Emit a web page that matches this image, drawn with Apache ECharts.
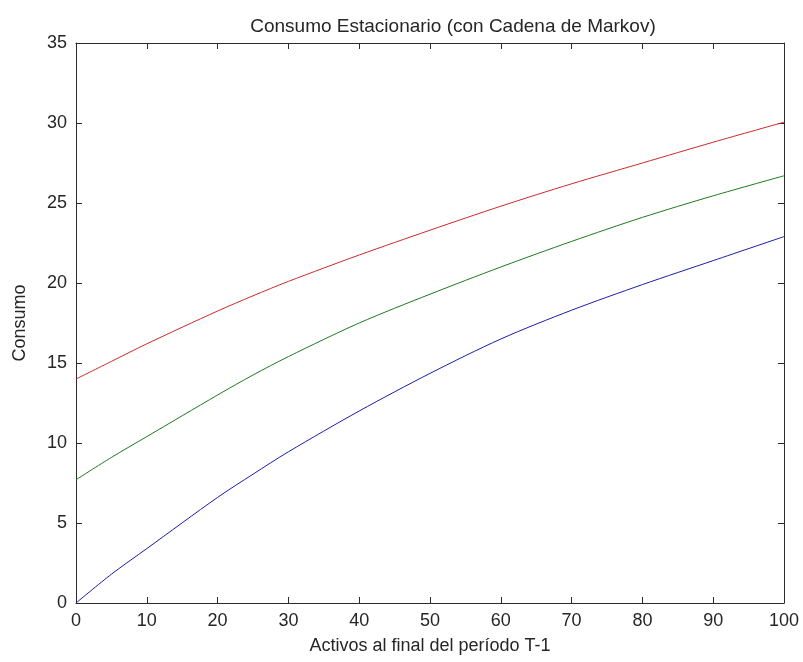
<!DOCTYPE html>
<html>
<head>
<meta charset="utf-8">
<title>Consumo Estacionario</title>
<script src="https://cdn.jsdelivr.net/npm/echarts@6/dist/echarts.min.js"></script>
<style>
  html, body { margin: 0; padding: 0; background: #fff; }
  #chart { width: 803px; height: 662px; }
</style>
</head>
<body>
<div id="chart"></div>
<script>
// Assets at the end of period T-1 (x axis)
const assets = [0, 5, 10, 20, 25, 30, 40, 50, 60, 70, 80, 90, 100];

// Stationary consumption for each Markov state
const consumoBajo  = [0.0, 1.8, 3.4, 6.6, 8.05, 9.45, 12.0, 14.35, 16.5, 18.3, 19.9, 21.4, 22.9];
const consumoMedio = [7.7, 9.1, 10.4, 13.0, 14.25, 15.4, 17.5, 19.3, 21.0, 22.6, 24.1, 25.45, 26.7];
const consumoAlto  = [14.0, 15.1, 16.2, 18.25, 19.2, 20.1, 21.75, 23.3, 24.8, 26.2, 27.5, 28.8, 30.05];

const titleText = 'Consumo Estacionario (con Cadena de Markov)';
const xName = 'Activos al final del período T-1';
const yName = 'Consumo';

const FONT = "'Liberation Sans', Arial, sans-serif";
const AXIS_COLOR = '#2b2b2b';
const TEXT_COLOR = '#262626';

const pairs = ys => assets.map((x, i) => [x, ys[i]]);

const chart = echarts.init(document.getElementById('chart'), null, { renderer: 'canvas' });

const tickStyle = { inside: true, length: 6, lineStyle: { color: AXIS_COLOR, width: 1 } };
const lineStyleAxis = { show: true, onZero: false, lineStyle: { color: AXIS_COLOR, width: 1 } };
const labelStyle = { color: TEXT_COLOR, fontSize: 18, fontFamily: FONT };

chart.setOption({
  animation: false,
  backgroundColor: '#ffffff',
  title: {
    text: titleText,
    left: 448,
    textAlign: 'center',
    top: 12,
    textStyle: { color: TEXT_COLOR, fontSize: 19, fontWeight: 'normal', fontFamily: FONT }
  },
  grid: { left: 76, right: 19, top: 43, bottom: 59, containLabel: false },
  xAxis: [
    {
      type: 'value', position: 'bottom', min: 0, max: 100, interval: 10,
      axisLine: lineStyleAxis, axisTick: tickStyle,
      axisLabel: Object.assign({ margin: 9 }, labelStyle),
      splitLine: { show: false },
      name: xName, nameLocation: 'middle', nameGap: 34,
      nameTextStyle: { color: TEXT_COLOR, fontSize: 18, fontFamily: FONT }
    },
    {
      type: 'value', position: 'top', min: 0, max: 100, interval: 10,
      axisLine: lineStyleAxis, axisTick: tickStyle,
      axisLabel: { show: false }, splitLine: { show: false }
    }
  ],
  yAxis: [
    {
      type: 'value', position: 'left', min: 0, max: 35, interval: 5,
      axisLine: lineStyleAxis, axisTick: tickStyle,
      axisLabel: Object.assign({ margin: 9 }, labelStyle),
      splitLine: { show: false },
      name: yName, nameLocation: 'middle', nameGap: 47, nameRotate: 90,
      nameTextStyle: { color: TEXT_COLOR, fontSize: 18, fontFamily: FONT }
    },
    {
      type: 'value', position: 'right', min: 0, max: 35, interval: 5,
      axisLine: lineStyleAxis, axisTick: tickStyle,
      axisLabel: { show: false }, splitLine: { show: false }
    }
  ],
  series: [
    { name: 'bajo', type: 'line', data: pairs(consumoBajo), smooth: 0.3, symbol: 'none',
      lineStyle: { color: '#1c1ca8', width: 1 } },
    { name: 'medio', type: 'line', data: pairs(consumoMedio), smooth: 0.3, symbol: 'none',
      lineStyle: { color: '#1f7a1f', width: 1 } },
    { name: 'alto', type: 'line', data: pairs(consumoAlto), smooth: 0.3, symbol: 'none',
      lineStyle: { color: '#cc2a2a', width: 1 } }
  ]
});
</script>
</body>
</html>
